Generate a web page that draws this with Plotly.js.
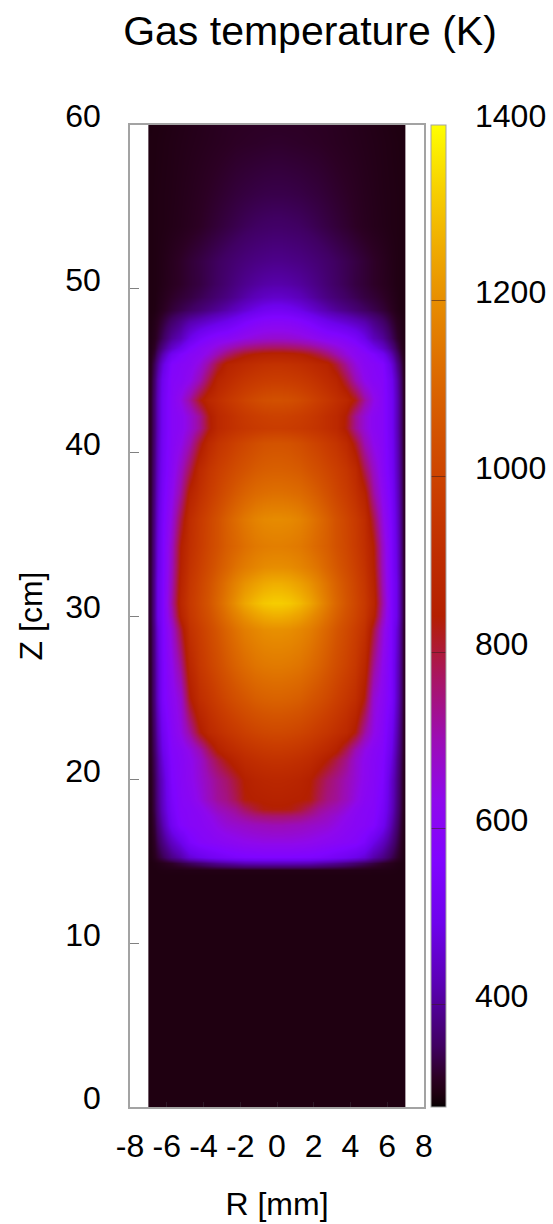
<!DOCTYPE html>
<html><head><meta charset="utf-8">
<script src="https://cdn.plot.ly/plotly-3.0.1.min.js"></script>
<style>html,body{margin:0;padding:0;background:#fff}</style></head>
<body><div id="chart" style="width:553px;height:1224px"></div>
<script>
const radiusMm = [0.25,0.75,1.25,1.75,2.25,2.75,3.25,3.75,4.25,4.75,5.25,5.75,6.25,6.5,6.7,6.9];
const heightCm = [0,14.2,14.5,14.9,15.3,16.2,17.2,17.8,18.2,18.8,20,21.2,21.8,22.9,25,27,29.2,30,30.8,32,33,34.3,35.9,37.5,39,40.6,41.5,42.2,43.2,44.4,45.4,46,46.4,47,48,48.7,49.5,50.3,51.7,53.8,55.8,58.9,60];
const gasTemperatureK = [
[300,300,300,300,300,300,300,300,300,300,300,300,300,300,300,300],
[300,300,300,300,300,300,300,300,300,300,300,300,300,300,300,300],
[305,305,305,305,305,305,305,305,304,304,303,303,302,301,300,300],
[430,430,428,425,415,405,395,380,365,350,335,320,310,305,302,300],
[560,560,558,555,548,538,525,510,490,465,415,385,345,325,312,302],
[640,640,635,630,620,610,600,590,580,550,490,440,380,345,320,304],
[700,695,690,680,670,660,640,615,600,590,570,510,415,365,330,306],
[760,755,745,725,705,685,660,630,605,592,580,525,430,375,335,307],
[835,830,805,770,730,710,690,650,615,592,585,535,440,380,340,308],
[855,850,845,835,785,745,725,690,645,605,588,545,445,385,342,309],
[880,875,865,845,805,765,735,700,660,620,592,560,450,390,345,310],
[930,925,915,900,870,835,790,735,670,625,595,570,475,400,352,313],
[960,955,945,930,910,885,850,780,700,640,600,578,490,410,358,315],
[1015,1010,1000,985,965,945,920,890,830,720,640,590,510,425,365,316],
[1095,1090,1080,1060,1040,1015,985,950,915,830,665,610,545,450,380,320],
[1155,1150,1140,1120,1095,1065,1030,995,955,885,730,630,545,455,385,320],
[1205,1200,1185,1165,1135,1100,1060,1020,980,930,800,660,550,470,390,322],
[1265,1255,1235,1205,1170,1130,1085,1040,1000,950,860,695,555,490,400,325],
[1320,1310,1285,1250,1205,1155,1105,1055,1010,960,880,715,555,490,400,325],
[1265,1255,1235,1210,1175,1135,1090,1045,1000,950,865,700,555,490,400,325],
[1200,1195,1180,1160,1135,1100,1065,1025,985,935,850,690,550,480,395,325],
[1165,1160,1150,1130,1105,1080,1045,1010,970,920,840,680,550,475,395,322],
[1195,1190,1175,1150,1120,1085,1045,1005,965,910,790,650,545,465,390,322],
[1130,1125,1115,1095,1070,1040,1005,970,925,860,720,620,535,455,385,320],
[1085,1080,1070,1050,1030,1005,980,945,895,780,680,600,525,445,380,320],
[1050,1045,1030,1010,990,965,940,895,810,700,630,592,520,440,375,318],
[975,970,962,950,935,915,890,825,730,660,610,590,515,435,372,318],
[990,985,975,960,940,915,890,830,730,660,610,590,515,435,372,318],
[1040,1035,1020,1000,975,950,920,885,825,720,640,590,515,435,372,318],
[975,970,960,945,925,900,870,790,700,630,595,585,505,425,365,316],
[930,925,915,900,880,860,800,720,650,605,590,570,470,395,350,312],
[860,855,845,825,795,755,705,650,610,592,560,510,420,365,330,308],
[780,775,765,750,725,695,660,625,600,560,500,450,385,345,320,306],
[670,665,655,640,620,600,592,570,540,490,430,400,350,325,312,304],
[590,585,570,548,520,495,475,455,435,415,385,360,330,315,308,302],
[520,510,490,465,440,418,400,385,370,355,342,330,315,307,302,300],
[450,443,430,412,395,380,368,355,345,335,328,320,310,305,301,300],
[415,411,403,392,380,367,355,345,335,328,320,314,307,303,301,300],
[388,385,381,375,368,360,352,344,336,328,320,313,306,303,301,300],
[358,356,353,348,342,336,330,324,318,313,309,306,303,302,301,300],
[340,339,337,334,331,327,323,319,315,311,308,305,303,302,301,300],
[322,321,320,319,318,316,314,312,310,308,306,304,302,301,300,300],
[318,318,318,317,316,315,313,311,309,307,305,303,301,300,300,299]
];
const xTickVals = [-8,-6,-4,-2,0,2,4,6,8];
const xTickText = ['-8','-6','-4','-2','0','2','4','6','8'];
const yTickVals = [0,10,20,30,40,50,60];
const cbTickVals = [400,600,800,1000,1200,1400];
const tempMin = 284, tempMax = 1400;
const palette = [
[0,'rgb(0,0,0)'],[0.004,'rgb(16,0,6)'],[0.0143,'rgb(31,0,17)'],[0.03,'rgb(44,0,36)'],
[0.0625,'rgb(64,0,98)'],[0.125,'rgb(90,0,180)'],[0.1875,'rgb(110,2,236)'],[0.25,'rgb(128,4,255)'],
[0.3125,'rgb(143,8,236)'],[0.375,'rgb(156,13,180)'],[0.4375,'rgb(169,21,98)'],[0.5,'rgb(180,32,0)'],
[0.5625,'rgb(191,45,0)'],[0.625,'rgb(202,62,0)'],[0.6875,'rgb(211,83,0)'],[0.75,'rgb(221,108,0)'],
[0.8125,'rgb(230,137,0)'],[0.875,'rgb(239,171,0)'],[0.9375,'rgb(247,210,0)'],[1,'rgb(255,255,0)']];

const fullX = radiusMm.slice().reverse().map(r => -r).concat(radiusMm);
const fullZ = gasTemperatureK.map(row => row.slice().reverse().concat(row));
const W = 553, H = 1224;
const font = 'Liberation Sans, Arial, sans-serif';
const frame = '#a3a3a3';

const data = [
 {type:'heatmap', x:fullX, y:heightCm, z:fullZ, zsmooth:'best', zmin:tempMin, zmax:tempMax,
  colorscale:palette, hoverinfo:'skip',
  colorbar:{xref:'container', x:431/W, xanchor:'left', thickness:15, thicknessmode:'pixels',
    len:1, lenmode:'fraction', yref:'paper', y:1, yanchor:'top', ypad:0, xpad:0,
    outlinecolor:frame, outlinewidth:1, borderwidth:0,
    tickvals:cbTickVals, ticks:'inside', ticklen:15, tickwidth:1, tickcolor:'rgba(60,30,30,0.55)',
    showticklabels:false}},
 {type:'scatter', x:[], y:[], yaxis:'y2', xaxis:'x', hoverinfo:'skip', showlegend:false}
];
const layout = {
 width:W, height:H, paper_bgcolor:'#fff', plot_bgcolor:'#fff', showlegend:false,
 margin:{l:130,r:129,t:125,b:117,pad:0},
 font:{family:font,color:'#000',size:32},
 title:{text:'Gas temperature (K)', font:{family:font,size:41,color:'#000'},
   xref:'container', x:310/W, xanchor:'center', yref:'container', y:1-31/H, yanchor:'middle'},
 xaxis:{range:[-8,8], tickmode:'array', tickvals:xTickVals, ticktext:xTickText, tickangle:0, ticks:'inside', ticklen:5, tickwidth:1, tickcolor:'#2e1a28',
   showgrid:false, zeroline:false, showline:true, linecolor:frame, linewidth:1.5, mirror:true,
   ticklabelstandoff:10, tickfont:{size:32},
   title:{text:'R [mm]', font:{size:32}, standoff:29}},
 yaxis:{range:[0,60], tickvals:yTickVals, ticks:'inside', ticklen:9, tickwidth:1, tickcolor:'#808080',
   showgrid:false, zeroline:false, showline:true, linecolor:frame, linewidth:1.5, mirror:true,
   ticklabelstandoff:21, ticklabelshift:-9, tickfont:{size:32},
   title:{text:'Z [cm]', font:{size:32}, standoff:13}},
 yaxis2:{range:[tempMin,tempMax], overlaying:'y', side:'right', anchor:'x', tickvals:cbTickVals,
   ticks:'', showgrid:false, zeroline:false, showline:false,
   ticklabelstandoff:50, ticklabelshift:-9, tickfont:{size:32}}
};
Plotly.newPlot('chart', data, layout, {displayModeBar:false, responsive:false});
</script></body></html>
